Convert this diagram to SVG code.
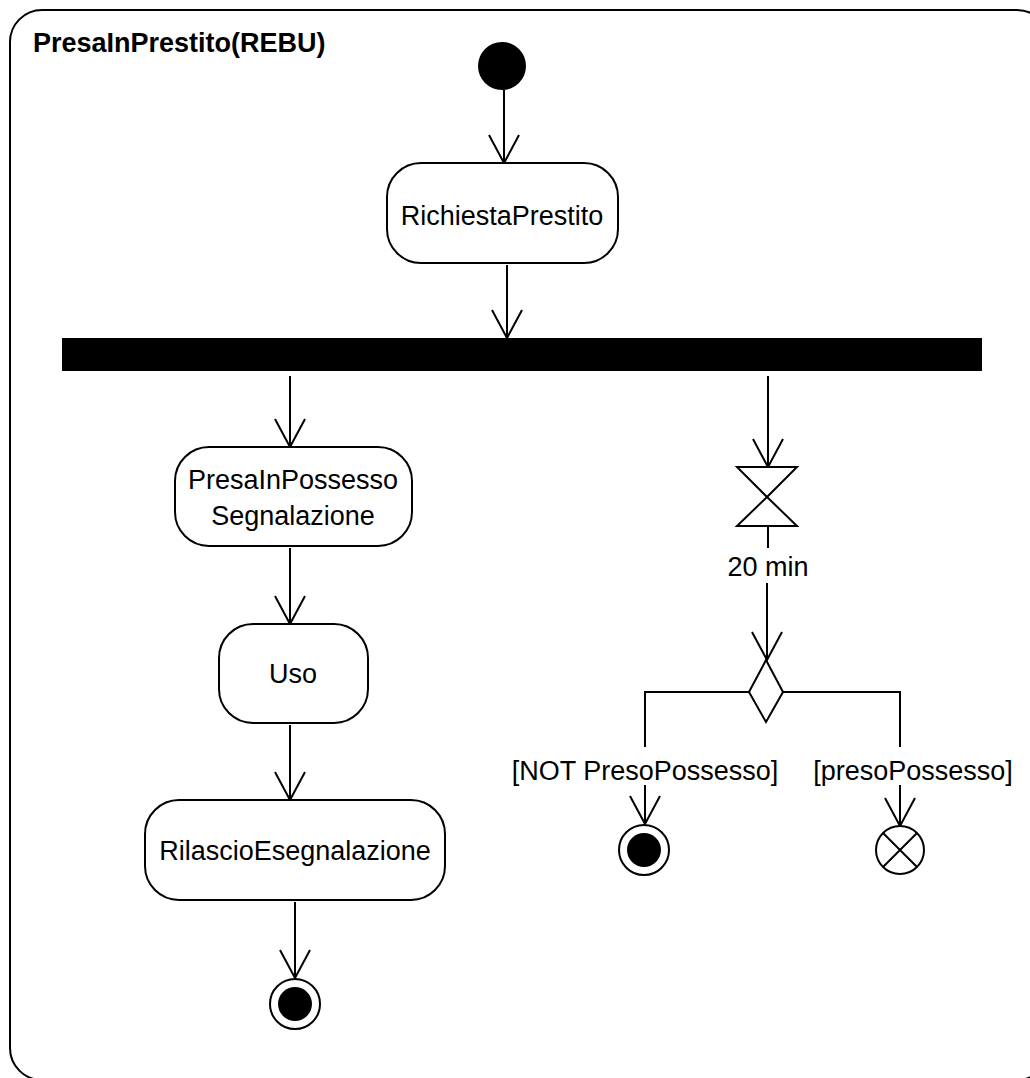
<svg xmlns="http://www.w3.org/2000/svg" width="1030" height="1078" viewBox="0 0 1030 1078">
<defs>
<style>
.ln{fill:none;stroke:#000;stroke-width:2}
.act{fill:#fff;stroke:#000;stroke-width:2}
.t{font-family:"Liberation Sans",Arial,sans-serif;font-size:27px;fill:#000;text-anchor:middle}
.title{font-family:"Liberation Sans",Arial,sans-serif;font-size:27px;font-weight:bold;fill:#000}
</style>
<marker id="arr" viewBox="0 0 32 34" markerWidth="32" markerHeight="34" refX="30" refY="17" orient="auto" markerUnits="userSpaceOnUse">
<path d="M2,2 L30,17 L2,32" fill="none" stroke="#000" stroke-width="2"/>
</marker>
</defs>
<rect width="1030" height="1078" fill="#fff"/>
<g id="frame">
<rect x="10" y="10" width="1039" height="1070" rx="32" ry="32" class="ln"/>
<text x="33" y="52" class="title">PresaInPrestito(REBU)</text>
</g>
<g id="connectors">
<path class="ln" d="M504,90 L504,163" marker-end="url(#arr)"/>
<path class="ln" d="M507,265 L507,338" marker-end="url(#arr)"/>
<path class="ln" d="M290,376 L290,447" marker-end="url(#arr)"/>
<path class="ln" d="M290,548 L290,624" marker-end="url(#arr)"/>
<path class="ln" d="M290,725 L290,800" marker-end="url(#arr)"/>
<path class="ln" d="M295,902 L295,978" marker-end="url(#arr)"/>
<path class="ln" d="M768,376 L768,467" marker-end="url(#arr)"/>
<path class="ln" d="M768,526 L768,548"/>
<path class="ln" d="M767,583 L767,660" marker-end="url(#arr)"/>
<path class="ln" d="M783,692 L900,692 L900,747"/>
<path class="ln" d="M900,785 L900,826" marker-end="url(#arr)"/>
<path class="ln" d="M749,692 L645,692 L645,747"/>
<path class="ln" d="M645,785 L645,824" marker-end="url(#arr)"/>
<text x="768" y="576" class="t">20 min</text>
<text x="913" y="780" class="t">[presoPossesso]</text>
<text x="645" y="780" class="t">[NOT PresoPossesso]</text>
</g>
<g id="initial">
<circle cx="502" cy="66" r="24" fill="#000"/>
</g>
<g id="richiestaPrestito">
<rect x="387" y="163" width="231" height="100" rx="34" ry="34" class="act"/>
<text x="502" y="225" class="t">RichiestaPrestito</text>
</g>
<g id="fork">
<rect x="62" y="338" width="920" height="33" fill="#000"/>
</g>
<g id="presaInPossesso">
<rect x="175" y="447" width="237" height="99" rx="34" ry="34" class="act"/>
<text x="293" y="489" class="t">PresaInPossesso</text>
<text x="293" y="525" class="t">Segnalazione</text>
</g>
<g id="uso">
<rect x="219" y="624" width="149" height="99" rx="34" ry="34" class="act"/>
<text x="293" y="683" class="t">Uso</text>
</g>
<g id="rilascio">
<rect x="145" y="800" width="300" height="100" rx="34" ry="34" class="act"/>
<text x="295" y="860" class="t">RilascioEsegnalazione</text>
</g>
<g id="finalLeft">
<circle cx="295" cy="1004" r="25" class="act"/>
<circle cx="295" cy="1004" r="17" fill="#000"/>
</g>
<g id="timer">
<path class="act" d="M737,467 L797,467 L767,497 Z M767,497 L737,526 L797,526 Z"/>
</g>
<g id="decision">
<path class="act" d="M766,660 L783,692 L766,722 L749,692 Z"/>
</g>
<g id="finalRight">
<circle cx="644" cy="850" r="25" class="act"/>
<circle cx="644" cy="850" r="17" fill="#000"/>
</g>
<g id="flowFinal">
<circle cx="900" cy="850" r="24" class="act"/>
<path class="ln" d="M883,833 L917,867 M917,833 L883,867"/>
</g>
</svg>
